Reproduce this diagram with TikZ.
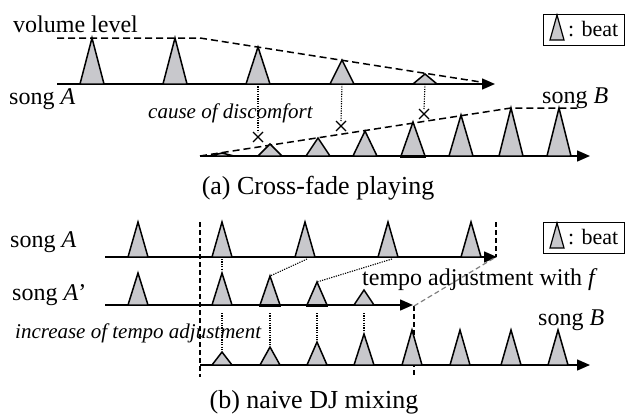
\documentclass[tikz,border=0pt]{standalone}
\usepackage{fontspec}
\setmainfont{Liberation Serif}
\usetikzlibrary{arrows.meta,calc}
\definecolor{beatgray}{RGB}{200,200,204}
\newcommand\mybeat[5]{% name, x, base y, apex y, half width
  \coordinate (#1) at (#2,#4);
  \coordinate (#1b) at (#2,#3);
  \draw[beatshape] (#2-#5,#3) -- (#2,#4) -- (#2+#5,#3) -- cycle;}
\newcommand\mycross[2]{% name, position
  \coordinate (#1) at (#2);
  \draw[line width=1.2pt] ($(#1)+(-5,-5)$) -- ($(#1)+(5,5)$) ($(#1)+(-5,5)$) -- ($(#1)+(5,-5)$);}
\begin{document}
\begin{tikzpicture}[x=1pt,y=-1pt,
  lbl/.style={inner sep=0pt, font=\fontsize{24}{28}\selectfont},
  caplbl/.style={inner sep=0pt, font=\fontsize{26}{30}\selectfont},
  itl/.style={inner sep=0pt, font=\fontsize{21}{24}\selectfont\itshape},
  leglbl/.style={inner sep=0pt, font=\fontsize{22}{26}\selectfont},
  axisline/.style={line width=1.5pt, -{Triangle[length=13pt,width=11pt]}},
  beatshape/.style={draw, line width=1.5pt, fill=beatgray, line join=miter},
  vol/.style={line width=1.5pt, dash pattern=on 7pt off 4pt},
  vdash/.style={line width=1.2pt, dash pattern=on 5pt off 3pt},
  dotline/.style={line width=1.1pt, dash pattern=on 1.2pt off 1.2pt},
  legbox/.style={draw, line width=1.2pt, inner sep=0pt, minimum width=81pt, minimum height=31pt, anchor=north west}
]
\useasboundingbox (0,0) rectangle (626,415);

% ===== (a) Cross-fade playing =====
\coordinate (aA0) at (57,84);
\coordinate (aA1) at (495,84);
\coordinate (aB0) at (200,156);
\coordinate (aB1) at (590,156);
\draw[axisline] (aA0) -- (aA1);
\draw[axisline] (aB0) -- (aB1);

\coordinate (vA0) at (57,38);
\coordinate (vA1) at (200,38);
\coordinate (vA2) at (487,83);
\draw[vol] (vA0) -- (vA1) -- (vA2);
\coordinate (vB0) at (200,156);
\coordinate (vB1) at (511,108);
\coordinate (vB2) at (578,108);
\draw[vol] (vB0) -- (vB1) -- (vB2);

\mybeat{ta1}{92}{84}{38}{12}
\mybeat{ta2}{175}{84}{38}{12}
\mybeat{ta3}{258}{84}{47}{12}
\mybeat{ta4}{342}{84}{60}{12}
\mybeat{ta5}{425}{84}{74}{12}

\mybeat{tb1}{222}{156}{153}{12}
\mybeat{tb2}{270}{156}{144}{12}
\mybeat{tb3}{318}{156}{138}{12}
\mybeat{tb4}{365}{156}{131}{12}
\mybeat{tb5}{413}{156}{122}{12}
\mybeat{tb6}{461}{156}{115}{12}
\mybeat{tb7}{511}{156}{108}{12}
\mybeat{tb8}{559}{156}{108}{12}
\draw[line width=3pt] ($(tb5b)+(-13,0)$) -- ($(tb5b)+(13,0)$);

\mycross{x1}{258,137}
\mycross{x2}{341,126}
\mycross{x3}{424,114}
\draw[dotline] (ta3b) -- ($(x1)+(0,-5)$);
\draw[dotline] (ta4b) -- ($(x2)+(0,-5)$);
\draw[dotline] (ta5b) -- ($(x3)+(0,-5)$);

\node[lbl, anchor=west] (vl) at (13,24) {volume level};
\node[lbl, anchor=west] (sA) at (9,99) {song \textit{A}};
\node[lbl, anchor=west] (sB) at (542,98) {song \textit{B}};
\node[itl, anchor=west] (cd) at (148,113) {cause of discomfort};
\node[caplbl] (capa) at (318,188) {(a) Cross-fade playing};

\node[legbox] (leg1) at (543,14) {};
\draw[beatshape, line width=1.2pt] (550,40) -- (557,15) -- (564,40) -- cycle;
\node[leglbl, anchor=west] (legt1) at (568,29) {: beat};

% ===== (b) naive DJ mixing =====
\coordinate (bA0) at (105,257);
\coordinate (bA1) at (497,257);
\coordinate (bP0) at (105,305);
\coordinate (bP1) at (413,305);
\coordinate (bB0) at (200,365);
\coordinate (bB1) at (590,365);
\draw[axisline] (bA0) -- (bA1);
\draw[axisline] (bP0) -- (bP1);
\draw[axisline] (bB0) -- (bB1);

\coordinate (d1t) at (200,222);
\coordinate (d1b) at (200,377);
\coordinate (d2t) at (496,222);
\coordinate (d2b) at (496,257);
\coordinate (d3t) at (414,306);
\coordinate (d3b) at (414,377);
\draw[vdash] (d1t) -- (d1b);
\draw[vdash] (d2t) -- (d2b);
\draw[vdash] (d3t) -- (d3b);
\draw[vdash, gray] (d3t) -- (d2b);

\mybeat{pa1}{138}{257}{222}{10}
\mybeat{pa2}{222}{257}{222}{10}
\mybeat{pa3}{305}{257}{222}{10}
\mybeat{pa4}{388}{257}{222}{10}
\mybeat{pa5}{471}{257}{222}{10}

\mybeat{pp1}{138}{305}{273}{10}
\mybeat{pp2}{222}{305}{273}{10}
\mybeat{pp3}{270}{305}{276}{10}
\mybeat{pp4}{317}{305}{282}{10}
\mybeat{pp5}{364}{305}{290}{10}
\draw[line width=3pt] ($(pp3b)+(-11,0)$) -- ($(pp3b)+(11,0)$);
\draw[line width=3pt] ($(pp4b)+(-11,0)$) -- ($(pp4b)+(11,0)$);

\mybeat{pb1}{222}{365}{352}{10}
\mybeat{pb2}{270}{365}{347}{10}
\mybeat{pb3}{317}{365}{342}{10}
\mybeat{pb4}{364}{365}{334}{10}
\mybeat{pb5}{412}{365}{330}{10}
\mybeat{pb6}{460}{365}{330}{10}
\mybeat{pb7}{511}{365}{330}{10}
\mybeat{pb8}{558}{365}{330}{10}

\draw[dotline] ($(pa2b)+(0,2)$) -- ($(pp2)+(0,-3)$);
\draw[dotline] ($(pa3b)+(2,2)$) -- (pp3);
\draw[dotline] ($(pa4b)+(4,2)$) -- (pp4);
\draw[dotline] ($(pp2b)+(0,8)$) -- ($(pb1)+(0,-1)$);
\draw[dotline] ($(pp3b)+(0,8)$) -- ($(pb2)+(0,-2)$);
\draw[dotline] ($(pp4b)+(0,8)$) -- ($(pb3)+(0,-2)$);
\draw[dotline] ($(pp5b)+(0,8)$) -- ($(pb4)+(0,-2)$);

\node[lbl, anchor=west] (sA2) at (10,242) {song \textit{A}};
\node[lbl, anchor=west] (sAp) at (12,295) {song \textit{A}’};
\node[lbl, anchor=west] (sB2) at (538,320) {song \textit{B}};
\node[itl, anchor=west] (inc) at (15,333) {increase of tempo adjustment};
\node[lbl, anchor=west] (ta) at (362,280) {tempo adjustment with \textit{f}};
\node[caplbl] (capb) at (314,402) {(b) naive DJ mixing};

\node[legbox] (leg2) at (543,222) {};
\draw[beatshape, line width=1.2pt] (550,248) -- (557,223) -- (564,248) -- cycle;
\node[leglbl, anchor=west] (legt2) at (568,237) {: beat};
\end{tikzpicture}
\end{document}
